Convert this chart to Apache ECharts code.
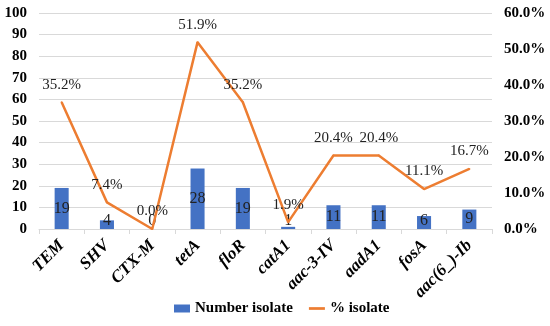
<!DOCTYPE html>
<html><head><meta charset="utf-8">
<script src="https://cdn.jsdelivr.net/npm/echarts@6/dist/echarts.min.js"></script>
<style>html,body{margin:0;padding:0;background:#fff}#c{width:550px;height:326px}</style>
</head><body><div id="c"></div>
<script>
var categories = ['TEM','SHV','CTX-M','tetA','floR','catA1','aac-3-IV','aadA1','fosA','aac(6_)-Ib'];
var numberIsolate = [19,4,0,28,19,1,11,11,6,9];
var pctIsolate = [35.2,7.4,0.0,51.9,35.2,1.9,20.4,20.4,11.1,16.7];
var FONT = '"Liberation Serif","Times New Roman",serif';
var chart = echarts.init(document.getElementById('c'));
var barData = numberIsolate.map(function(v){
  var item = {value: v};
  if (v < 7) item.label = {position: 'insideBottom', distance: 0};
  return item;
});
chart.setOption({
  animation: false,
  textStyle: {fontFamily: FONT},
  grid: {left: 39, right: 58, top: 13, bottom: 97},
  legend: {
    bottom: 5, left: 169, itemGap: 16,
    textStyle: {fontFamily: FONT, fontWeight: 'bold', fontSize: 15, color: '#000'},
    data: [
      {name: 'Number isolate', icon: 'rect', itemStyle: {color: '#4472C4'}},
      {name: '% isolate', icon: 'path://M0,0 L1,0 L1,0.17 L0,0.17 Z', itemStyle: {color: '#ED7D31', opacity: 1}}
    ],
    itemWidth: 16, itemHeight: 8
  },
  xAxis: {
    type: 'category', data: categories,
    axisLine: {lineStyle: {color: '#d9d9d9'}},
    axisTick: {show: true, length: 5, lineStyle: {color: '#d9d9d9'}},
    axisLabel: {rotate: 45, interval: 0, fontFamily: FONT, fontWeight: 'bold', fontStyle: 'italic', fontSize: 17, color: '#000', margin: 14}
  },
  yAxis: [
    {type: 'value', min: 0, max: 100, interval: 10,
     axisLine: {show: false}, axisTick: {show: false},
     splitLine: {lineStyle: {color: '#d9d9d9'}},
     axisLabel: {fontFamily: FONT, fontWeight: 'bold', fontSize: 15, color: '#000', margin: 12}},
    {type: 'value', min: 0, max: 60, interval: 10,
     axisLine: {show: false}, axisTick: {show: false}, splitLine: {show: false},
     axisLabel: {fontFamily: FONT, fontWeight: 'bold', fontSize: 15, color: '#000', margin: 12,
       formatter: function(v){return v.toFixed(1)+'%';}}}
  ],
  series: [
    {name: 'Number isolate', type: 'bar', data: barData, barWidth: '31%',
     itemStyle: {color: '#4472C4'},
     label: {show: true, position: 'inside', fontFamily: FONT, fontSize: 16, color: '#222'}},
    {name: '% isolate', type: 'line', yAxisIndex: 1, data: pctIsolate,
     symbol: 'circle', symbolSize: 2, showSymbol: true,
     lineStyle: {color: '#ED7D31', width: 2.5},
     itemStyle: {color: '#ED7D31', borderWidth: 0},
     label: {show: true, position: 'top', distance: 9, fontFamily: FONT, fontSize: 15, color: '#222',
       formatter: function(p){return Number(p.value).toFixed(1)+'%';}}}
  ]
});
</script></body></html>
